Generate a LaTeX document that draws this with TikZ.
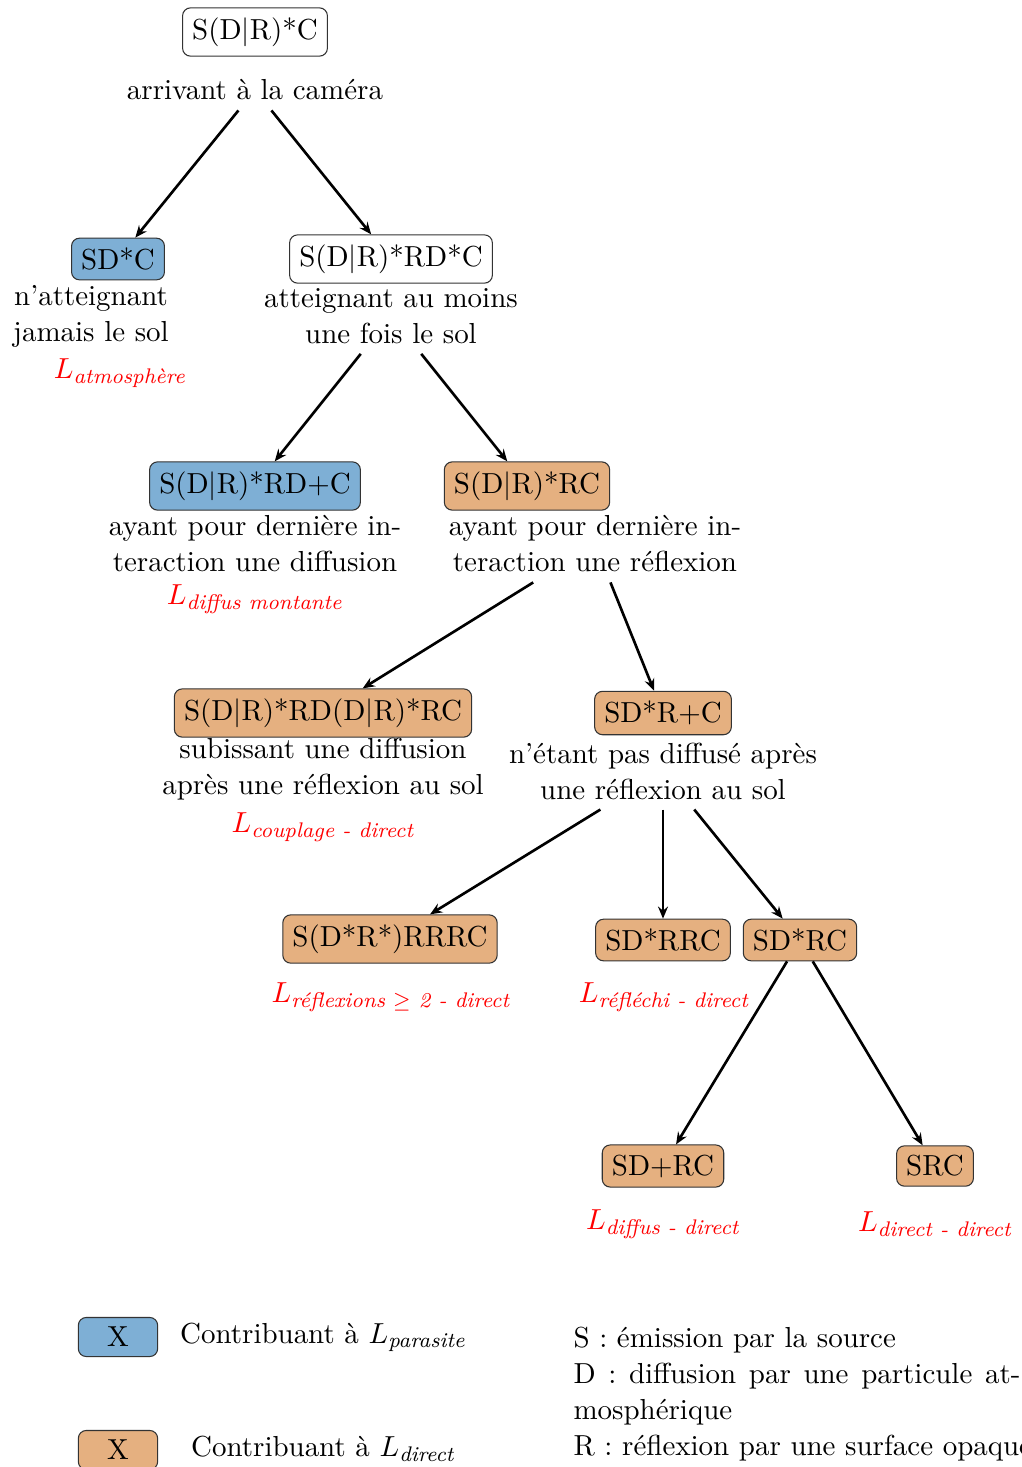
\documentclass[tikz,border=0pt,11pt]{standalone}
\usepackage{amsmath}
\usetikzlibrary{arrows.meta}
\definecolor{cblue}{RGB}{126,175,213}
\definecolor{corange}{RGB}{229,176,128}
\begin{document}
\begin{tikzpicture}[x=0.3781pt,y=-0.3781pt,
  box/.style={draw=black!80, rounded corners=3pt, fill=white},
  bluebox/.style={box, fill=cblue},
  orbox/.style={box, fill=corange},
  desc/.style={align=center},
  lab/.style={text=red},
  arr/.style={-{Stealth[length=4.6pt, width=3.8pt, inset=1.6pt]}, line width=1pt}]
\useasboundingbox (0,0) rectangle (1021,1467);

% level 0
\node[box] (b1) at (255,32) {S(D$|$R)*C};
\node[desc] (t1) at (255,90) {arrivant à la caméra};

% level 1
\node[bluebox] (b2) at (118,259) {SD*C};
\node[desc] (t2) at (91,316) {n'atteignant\\jamais le sol};
\node[lab] (l2) at (120,373) {$L_{\textit{atmosphère}}$};

\node[box] (b3) at (391,259) {S(D$|$R)*RD*C};
\node[desc] (t3) at (391,316) {atteignant au moins\\une fois le sol};

% level 2
\node[bluebox] (b4) at (255,486) {S(D$|$R)*RD+C};
\node[desc] (t4) at (255,544) {ayant pour dernière in-\\teraction une diffusion};
\node[lab] (l4) at (255,599) {$L_{\textit{diffus montante}}$};

\node[orbox] (b5) at (527,486) {S(D$|$R)*RC};
\node[desc] (t5) at (595,544) {ayant pour dernière in-\\teraction une réflexion};

% level 3
\node[orbox] (b6) at (323,713) {S(D$|$R)*RD(D$|$R)*RC};
\node[desc] (t6) at (323,769) {subissant une diffusion\\après une réflexion au sol};
\node[lab] (l6) at (323,827) {$L_{\textit{couplage - direct}}$};

\node[orbox] (b7) at (663,713) {SD*R+C};
\node[desc] (t7) at (663,771) {n'étant pas diffusé après\\une réflexion au sol};

% level 4
\node[orbox] (b8) at (390,939) {S(D*R*)RRRC};
\node[lab] (l8) at (391,997) {$L_{\textit{réflexions $\geq$ 2 - direct}}$};

\node[orbox] (b9) at (663,940) {SD*RRC};
\node[lab] (l9) at (664,997) {$L_{\textit{réfléchi - direct}}$};

\node[orbox] (b10) at (800,940) {SD*RC};

% level 5
\node[orbox] (b11) at (663,1166) {SD+RC};
\node[lab] (l11) at (663,1224) {$L_{\textit{diffus - direct}}$};

\node[orbox] (b12) at (935,1166) {SRC};
\node[lab] (l12) at (935,1224) {$L_{\textit{direct - direct}}$};

% connectors
\draw[arr] (t1) -- (b2);
\draw[arr] (t1) -- (b3);
\draw[arr] (t3) -- (b4);
\draw[arr] (t3) -- (b5);
\draw[arr] (t5) -- (b6);
\draw[arr] (t5) -- (b7);
\draw[arr] (t7) -- (b8);
\draw[arr] (t7) -- (b9);
\draw[arr] (t7) -- (b10);
\draw[arr] (b10) -- (b11);
\draw[arr] (b10) -- (b12);

% legend
\node[bluebox, minimum width=30pt, minimum height=14.5pt] (kb) at (118,1337) {X};
\node[anchor=west] (kbt) at (170,1337) {Contribuant à $L_{\textit{parasite}}$};
\node[orbox, minimum width=30pt, minimum height=14.5pt] (ko) at (118,1450) {X};
\node[anchor=west] (kot) at (181,1449) {Contribuant à $L_{\textit{direct}}$};

\node[anchor=north west, align=left, inner sep=0pt] (def) at (573,1327)
  {S : émission par la source\\
   \makebox[169pt][s]{D : diffusion par une particule at-}\\
   mosphérique\\
   R : réflexion par une surface opaque};
\end{tikzpicture}
\end{document}
